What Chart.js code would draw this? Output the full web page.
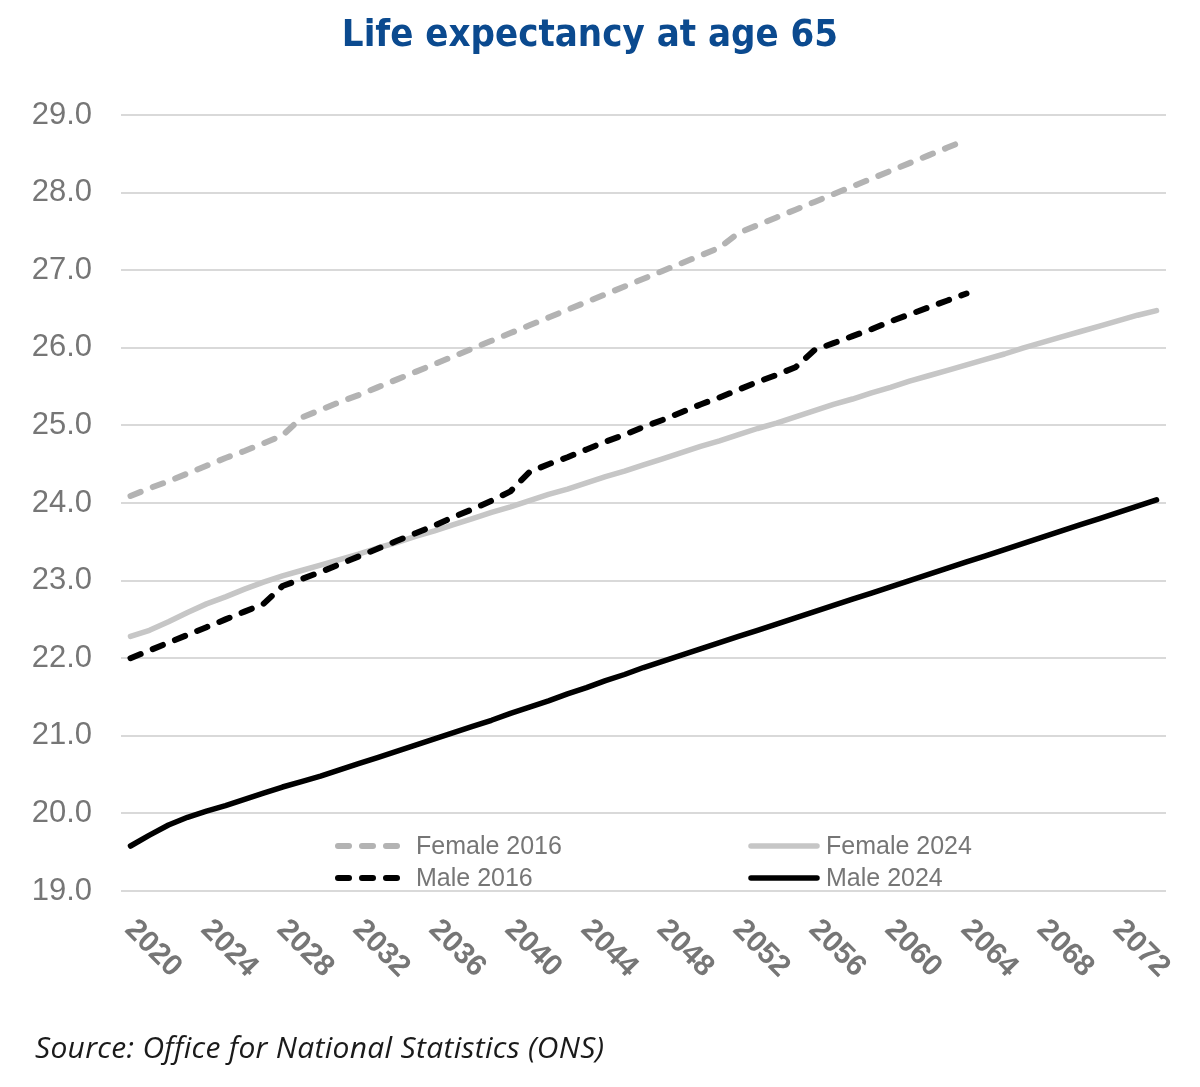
<!DOCTYPE html>
<html>
<head>
<meta charset="utf-8">
<script src="https://cdn.jsdelivr.net/npm/chart.js@4.4.1/dist/chart.umd.min.js"></script>
<style>
  html, body { margin: 0; padding: 0; background: #ffffff; }
  #wrap { position: relative; width: 1200px; height: 1087px; }
  #source { position: absolute; left: 35px; top: 1026px; font: italic 30px 'Open Sans', 'Noto Sans', sans-serif; letter-spacing: 0.3px; color: #1a1a1a; white-space: nowrap; }
</style>
</head>
<body>
<div id="wrap">
  <canvas id="c" width="1200" height="1087"></canvas>
  <div id="source">Source: Office for National Statistics (ONS)</div>
</div>
<script>
// ---- Data ----
const years = ['2020','2021','2022','2023','2024','2025','2026','2027','2028','2029',
  '2030','2031','2032','2033','2034','2035','2036','2037','2038','2039',
  '2040','2041','2042','2043','2044','2045','2046','2047','2048','2049',
  '2050','2051','2052','2053','2054','2055','2056','2057','2058','2059',
  '2060','2061','2062','2063','2064','2065','2066','2067','2068','2069',
  '2070','2071','2072','2073','2074'];

const xTickLabels = ['2020','2024','2028','2032','2036','2040','2044','2048','2052','2056','2060','2064','2068','2072'];

const seriesNames = ['Female 2016', 'Male 2016', 'Female 2024', 'Male 2024'];

const female2016 = [24.09, 24.19, 24.28, 24.38, 24.48, 24.58, 24.67, 24.77, 24.87,
  25.10, 25.20, 25.30, 25.39, 25.49, 25.59, 25.69, 25.79, 25.89, 25.99, 26.09, 26.19,
  26.29, 26.39, 26.49, 26.59, 26.69, 26.79, 26.89, 26.99, 27.09, 27.19, 27.29,
  27.48, 27.58, 27.68, 27.78, 27.88, 27.98, 28.08, 28.18, 28.28, 28.38, 28.48, 28.58, 28.68];

const male2016 = [22.00, 22.10, 22.20, 22.30, 22.40, 22.50, 22.60, 22.70,
  22.93, 23.02, 23.11, 23.21, 23.31, 23.41, 23.51, 23.61, 23.71, 23.82, 23.92, 24.03, 24.15,
  24.40, 24.50, 24.59, 24.69, 24.79, 24.88, 24.98, 25.07, 25.17, 25.27, 25.36, 25.46, 25.56, 25.65, 25.75,
  25.97, 26.06, 26.15, 26.24, 26.34, 26.43, 26.52, 26.61, 26.70];

const female2024 = [22.28, 22.36, 22.47, 22.59, 22.70, 22.79, 22.89, 22.98, 23.06, 23.13,
  23.20, 23.27, 23.34, 23.42, 23.49, 23.57, 23.64, 23.72, 23.80, 23.88,
  23.95, 24.03, 24.11, 24.18, 24.26, 24.34, 24.41, 24.49, 24.57, 24.65,
  24.73, 24.80, 24.88, 24.96, 25.03, 25.11, 25.19, 25.27, 25.34, 25.42,
  25.49, 25.57, 25.64, 25.71, 25.78, 25.85, 25.92, 26.00, 26.07, 26.14,
  26.21, 26.28, 26.35, 26.42, 26.48];

const male2024 = [19.58, 19.72, 19.85, 19.95, 20.03, 20.10, 20.18, 20.26, 20.34, 20.41,
  20.48, 20.56, 20.64, 20.72, 20.80, 20.88, 20.96, 21.04, 21.12, 21.20,
  21.29, 21.37, 21.45, 21.54, 21.62, 21.71, 21.79, 21.88, 21.96, 22.04,
  22.12, 22.20, 22.28, 22.36, 22.44, 22.52, 22.60, 22.68, 22.76, 22.84,
  22.92, 23.00, 23.08, 23.16, 23.24, 23.32, 23.40, 23.48, 23.56, 23.64,
  23.72, 23.80, 23.88, 23.96, 24.04];

const yMin = 19, yMax = 29, yStep = 1;

// ---- Styles ----
const TICK_GREY = '#767676';
const FONT = "'Liberation Sans', Arial, sans-serif";

const xLabelPlugin = {
  id: 'rotatedXLabels',
  afterDraw(chart) {
    const { ctx, chartArea } = chart;
    const x = chart.scales.x;
    ctx.save();
    ctx.font = 'bold 30px ' + FONT;
    ctx.fillStyle = TICK_GREY;
    ctx.textAlign = 'left';
    ctx.textBaseline = 'middle';
    xTickLabels.forEach(lbl => {
      const idx = years.indexOf(lbl);
      const px = x.getPixelForValue(idx);
      ctx.save();
      ctx.translate(px - 1, chartArea.bottom + 34);
      ctx.rotate(Math.PI / 4);
      ctx.fillText(lbl, 0, 0);
      ctx.restore();
    });
    ctx.restore();
  }
};

const legendLayout = [
  { ds: 0, x0: 335, x1: 400, tx: 416, row: 0 },
  { ds: 1, x0: 335, x1: 400, tx: 416, row: 1 },
  { ds: 2, x0: 748, x1: 820, tx: 826, row: 0 },
  { ds: 3, x0: 748, x1: 820, tx: 826, row: 1 }
];

const legendPlugin = {
  id: 'innerLegend',
  afterDraw(chart) {
    const { ctx } = chart;
    ctx.save();
    ctx.font = '25px ' + FONT;
    ctx.textBaseline = 'middle';
    ctx.textAlign = 'left';
    legendLayout.forEach(item => {
      const ds = chart.data.datasets[item.ds];
      const y = 846 + item.row * 32;
      ctx.save();
      ctx.strokeStyle = ds.borderColor;
      ctx.lineWidth = ds.borderWidth;
      ctx.lineCap = 'round';
      ctx.setLineDash(ds.borderDash || []);
      ctx.beginPath();
      ctx.moveTo(item.x0 + 3, y);
      ctx.lineTo(item.x1 - 3, y);
      ctx.stroke();
      ctx.restore();
      ctx.fillStyle = TICK_GREY;
      ctx.fillText(ds.label, item.tx, y + 1);
    });
    ctx.restore();
  }
};

const dash = [11, 13];

new Chart(document.getElementById('c'), {
  type: 'line',
  data: {
    labels: years,
    datasets: [
      { label: seriesNames[0], data: female2016, borderColor: '#b3b3b3', borderWidth: 6, borderDash: dash, borderCapStyle: 'round' },
      { label: seriesNames[1], data: male2016, borderColor: '#000000', borderWidth: 6, borderDash: dash, borderCapStyle: 'round' },
      { label: seriesNames[2], data: female2024, borderColor: '#c6c6c6', borderWidth: 5.5, borderCapStyle: 'round' },
      { label: seriesNames[3], data: male2024, borderColor: '#000000', borderWidth: 5.5, borderCapStyle: 'round' }
    ]
  },
  options: {
    responsive: false,
    animation: false,
    devicePixelRatio: 1,
    layout: { padding: { left: 14, right: 34, top: 0, bottom: 0 } },
    elements: {
      point: { radius: 0, hoverRadius: 0 },
      line: { tension: 0, borderJoinStyle: 'round', fill: false }
    },
    plugins: {
      legend: { display: false },
      tooltip: { enabled: false },
      title: {
        display: true,
        text: 'Life expectancy at age 65',
        color: '#0b4a8f',
        font: { family: "'Liberation Sans Narrow', 'DejaVu Sans Condensed', sans-serif", size: 38, weight: 'bold', lineHeight: 1.2 },
        padding: { top: 13, bottom: 56.4 }
      }
    },
    scales: {
      x: {
        type: 'category',
        offset: true,
        grid: { display: false, drawTicks: false },
        border: { display: false },
        ticks: { display: false },
        afterFit(scale) { scale.height = 196; }
      },
      y: {
        min: yMin,
        max: yMax,
        grid: { color: '#d9d9d9', lineWidth: 2, drawTicks: false },
        border: { display: false },
        ticks: {
          stepSize: yStep,
          padding: 29,
          color: TICK_GREY,
          font: { family: FONT, size: 31 },
          callback: v => Number(v).toFixed(1)
        },
        afterFit(scale) { scale.width = 107; }
      }
    }
  },
  plugins: [xLabelPlugin, legendPlugin]
});
</script>
</body>
</html>
